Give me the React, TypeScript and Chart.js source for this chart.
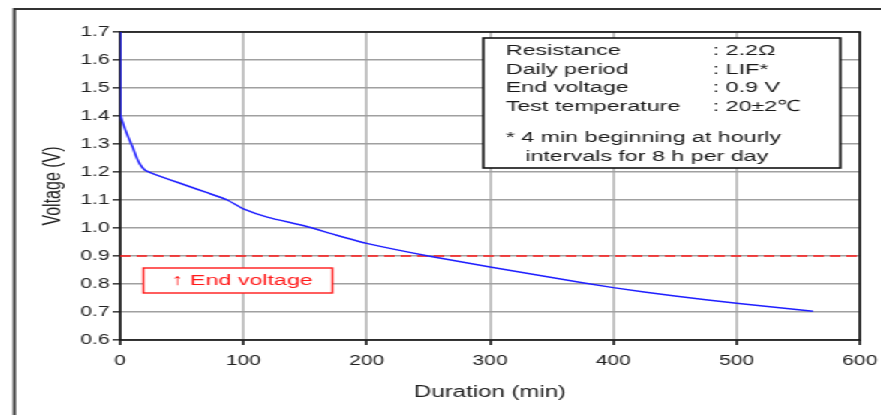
import React, { useEffect, useRef } from 'react';
import { Chart, registerables } from 'chart.js';

Chart.register(...registerables);

// ---- data ----
const durationMin = [0, 0, 3, 7, 10, 13, 16, 20, 26, 40, 55, 70, 87, 100, 120, 150, 175, 200, 250, 300, 350, 400, 450, 500, 562];
const voltageV = [1.7, 1.41, 1.365, 1.32, 1.29, 1.255, 1.228, 1.207, 1.195, 1.173, 1.15, 1.127, 1.1, 1.068, 1.038, 1.007, 0.975, 0.945, 0.9, 0.861, 0.823, 0.787, 0.757, 0.731, 0.703];
const endVoltage = 0.9;
const xRange = [0, 600];
const yRange = [0.6, 1.7];
const xStep = 100;
const yStep = 0.1;
const conditionLabels = ['Resistance', 'Daily period', 'End voltage', 'Test temperature'];
const conditionValues = [': 2.2Ω', ': LIF*', ': 0.9 V', ': 20±2℃'];
const noteLines = ['* 4 min beginning at hourly', 'intervals for 8 h per day'];
const endLabel = '↑ End voltage';

const W = 587;
const H = 415;
const SX = 881 / W;
const FONT = '"Liberation Sans", Arial, sans-serif';

const decorPlugin = {
  id: 'decor',
  beforeDatasetsDraw(chart: any) {
    const { ctx, chartArea } = chart;
    ctx.save();
    // outer frame
    ctx.strokeStyle = '#333';
    ctx.lineWidth = 2;
    ctx.beginPath();
    ctx.moveTo(9.5, H + 2);
    ctx.lineTo(9.5, 9);
    ctx.lineTo(W + 2, 9);
    ctx.stroke();
    // plot border
    ctx.strokeStyle = '#111';
    ctx.lineWidth = 1.6;
    ctx.strokeRect(chartArea.left, chartArea.top, chartArea.right - chartArea.left, chartArea.bottom - chartArea.top);
    ctx.restore();
  },
  afterDraw(chart: any) {
    const { ctx } = chart;
    ctx.save();
    // conditions box
    const bx = 322, by = 38, bw = 238, bh = 130;
    ctx.fillStyle = '#fff';
    ctx.fillRect(bx, by, bw, bh);
    ctx.strokeStyle = '#111';
    ctx.lineWidth = 1.6;
    ctx.strokeRect(bx, by, bw, bh);
    ctx.fillStyle = '#1a1a1a';
    ctx.font = `15.5px ${FONT}`;
    ctx.textBaseline = 'middle';
    ctx.textAlign = 'left';
    const rowY = [51, 69.5, 88, 106.5];
    conditionLabels.forEach((t, i) => {
      ctx.fillText(t, 337, rowY[i]);
      ctx.fillText(conditionValues[i], 475, rowY[i]);
    });
    ctx.fillText(noteLines[0], 337, 138);
    ctx.fillText(noteLines[1], 350, 157);

    // end voltage box
    const ex = 95.5, ey = 268, ew = 126, eh = 25;
    ctx.fillStyle = '#fff';
    ctx.fillRect(ex, ey, ew, eh);
    ctx.strokeStyle = '#ff1a1a';
    ctx.lineWidth = 1.4;
    ctx.strokeRect(ex, ey, ew, eh);
    ctx.fillStyle = '#ff1a1a';
    ctx.font = `15.5px ${FONT}`;
    ctx.fillText(endLabel, 114.5, ey + eh / 2 + 0.5);
    ctx.restore();
  },
};

export default function App() {
  const ref = useRef<HTMLCanvasElement | null>(null);
  useEffect(() => {
    if (!ref.current) return;
    const chart = new Chart(ref.current, {
      type: 'line',
      data: {
        datasets: [
          {
            data: durationMin.map((x, i) => ({ x, y: voltageV[i] })),
            borderColor: '#1f1fff',
            borderWidth: 1.5,
            pointRadius: 0,
            tension: 0.15,
            fill: false,
          },
          {
            data: [
              { x: xRange[0], y: endVoltage },
              { x: xRange[1], y: endVoltage },
            ],
            borderColor: '#ff1a1a',
            borderWidth: 1.5,
            borderDash: [7, 4],
            pointRadius: 0,
            fill: false,
          },
        ],
      },
      options: {
        animation: false,
        responsive: false,
        devicePixelRatio: 1,
        layout: { padding: { top: 32, right: 14, bottom: 0, left: 0 } },
        plugins: { legend: { display: false }, tooltip: { enabled: false } },
        scales: {
          x: {
            type: 'linear',
            min: xRange[0],
            max: xRange[1],
            afterFit: (s: any) => {
              s.height = 75;
              s.paddingLeft = 0;
              s.paddingRight = 0;
            },
            ticks: {
              stepSize: xStep,
              color: '#222',
              font: { size: 14, family: FONT },
              padding: 8,
              maxRotation: 0,
              callback: (v: any) => String(v),
            },
            grid: { color: '#c4c4c4', lineWidth: 2, tickLength: 5, tickColor: '#444' },
            border: { display: false },
            title: {
              display: true,
              text: 'Duration (min)',
              color: '#222',
              font: { size: 16, family: FONT },
              padding: { top: 0, bottom: 13 },
            },
          },
          y: {
            type: 'linear',
            min: yRange[0],
            max: yRange[1],
            afterFit: (s: any) => {
              s.width = 80;
              s.paddingTop = 0;
              s.paddingBottom = 0;
            },
            ticks: {
              stepSize: yStep,
              color: '#222',
              font: { size: 14, family: FONT },
              padding: 2,
              callback: (v: any) => Number(v).toFixed(1),
            },
            grid: { color: '#a0a0a0', lineWidth: 1.6, tickLength: 5, tickColor: '#444' },
            border: { display: false },
            title: {
              display: true,
              text: 'Voltage (V)',
              color: '#222',
              font: { size: 16, family: FONT },
              padding: { top: 26, bottom: 0 },
            },
          },
        },
      },
      plugins: [decorPlugin],
    });
    return () => chart.destroy();
  }, []);

  return (
    <div
      style={{
        position: 'fixed',
        left: 0,
        top: 0,
        width: W,
        height: H,
        transform: `scaleX(${SX})`,
        transformOrigin: '0 0',
        background: '#fff',
      }}
    >
      <canvas ref={ref} width={W} height={H} />
    </div>
  );
}
